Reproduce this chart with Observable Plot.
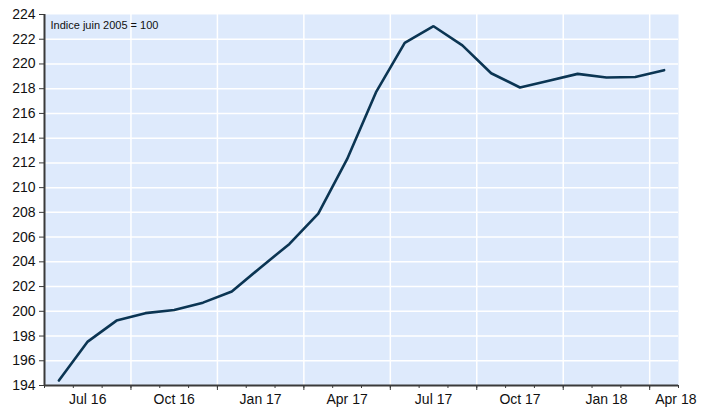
<!DOCTYPE html>
<html>
<head>
<meta charset="utf-8">
<script src="https://cdn.jsdelivr.net/npm/d3@7"></script>
<script src="https://cdn.jsdelivr.net/npm/@observablehq/plot@0.6"></script>
<style>
  html, body { margin: 0; padding: 0; background: #fff; }
  #chart svg { display: block; }
</style>
</head>
<body>
<div id="chart"></div>
<script>
// Monthly index, Jun 2016 .. Mar 2018 (Indice juin 2005 = 100)
const months = ["Jun 16","Jul 16","Aug 16","Sep 16","Oct 16","Nov 16","Dec 16",
  "Jan 17","Feb 17","Mar 17","Apr 17","May 17","Jun 17","Jul 17","Aug 17","Sep 17",
  "Oct 17","Nov 17","Dec 17","Jan 18","Feb 18","Mar 18"];
const values = [194.4, 197.55, 199.25, 199.85, 200.1, 200.7, 201.6,
  203.55, 205.45, 207.9, 212.3, 217.7, 221.7, 223.05, 221.5, 219.25,
  218.1, 218.65, 219.2, 218.9, 218.95, 219.5];
const yTicks = [194,196,198,200,202,204,206,208,210,212,214,216,218,220,222,224];
const xTickLabels = ["Jul 16","Oct 16","Jan 17","Apr 17","Jul 17","Oct 17","Jan 18","Apr 18"];
const xTickIndex = [1,4,7,10,13,16,19,22];
const note = "Indice juin 2005 = 100";

const data = months.map((m, i) => ({i, m, v: values[i]}));
const n = months.length;
const minorTicks = d3.range(-0.5, n, 1);
const majorTicks = d3.range(2.5, n - 0.5, 3);
const labels = xTickLabels.map((t, k) => ({t, i: xTickIndex[k], last: k === xTickLabels.length - 1}));

const axisColor = "#3a3a3a";
const font = "Liberation Sans, Arial, sans-serif";

const chart = Plot.plot({
  width: 711,
  height: 408,
  marginLeft: 44,
  marginRight: 33,
  marginTop: 14,
  marginBottom: 23,
  style: {fontFamily: font, fontSize: "14px", color: "#111", background: "white"},
  x: {domain: [-0.5, n - 0.5], axis: null},
  y: {domain: [194, 224], axis: null},
  marks: [
    Plot.frame({fill: "#deeafc", stroke: null}),
    Plot.ruleY(yTicks.slice(1, -1), {stroke: "white", strokeWidth: 1.5}),
    Plot.ruleX(majorTicks, {stroke: "white", strokeWidth: 1.5}),
    Plot.line(data, {x: "i", y: "v", stroke: "#0b3553", strokeWidth: 2.6, strokeLinejoin: "miter"}),
    Plot.axisY({ticks: yTicks, tickSize: 5, tickPadding: 4, tickFormat: d => d, fontSize: 14, stroke: axisColor, fill: "#111", label: null}),
    Plot.axisX({ticks: minorTicks, tickSize: 3, tickFormat: () => "", stroke: axisColor, label: null}),
    Plot.axisX({ticks: majorTicks, tickSize: 5, tickFormat: () => "", stroke: axisColor, label: null}),
    Plot.ruleX([-0.5], {stroke: axisColor, strokeWidth: 2}),
    Plot.ruleY([194], {stroke: axisColor, strokeWidth: 2}),
    Plot.text(labels.filter(d => !d.last), {x: "i", text: "t", frameAnchor: "bottom", dy: 14, lineAnchor: "middle", fontSize: 14, fill: "#111"}),
    Plot.text(labels.filter(d => d.last), {x: n - 0.5, text: "t", frameAnchor: "bottom", dy: 14, dx: 18, textAnchor: "end", lineAnchor: "middle", fontSize: 14, fill: "#111"}),
    Plot.text([note], {frameAnchor: "top-left", dx: 6, dy: 11, lineAnchor: "middle", fontSize: 11, fill: "#111"})
  ]
});
document.getElementById("chart").appendChild(chart);
</script>
</body>
</html>
